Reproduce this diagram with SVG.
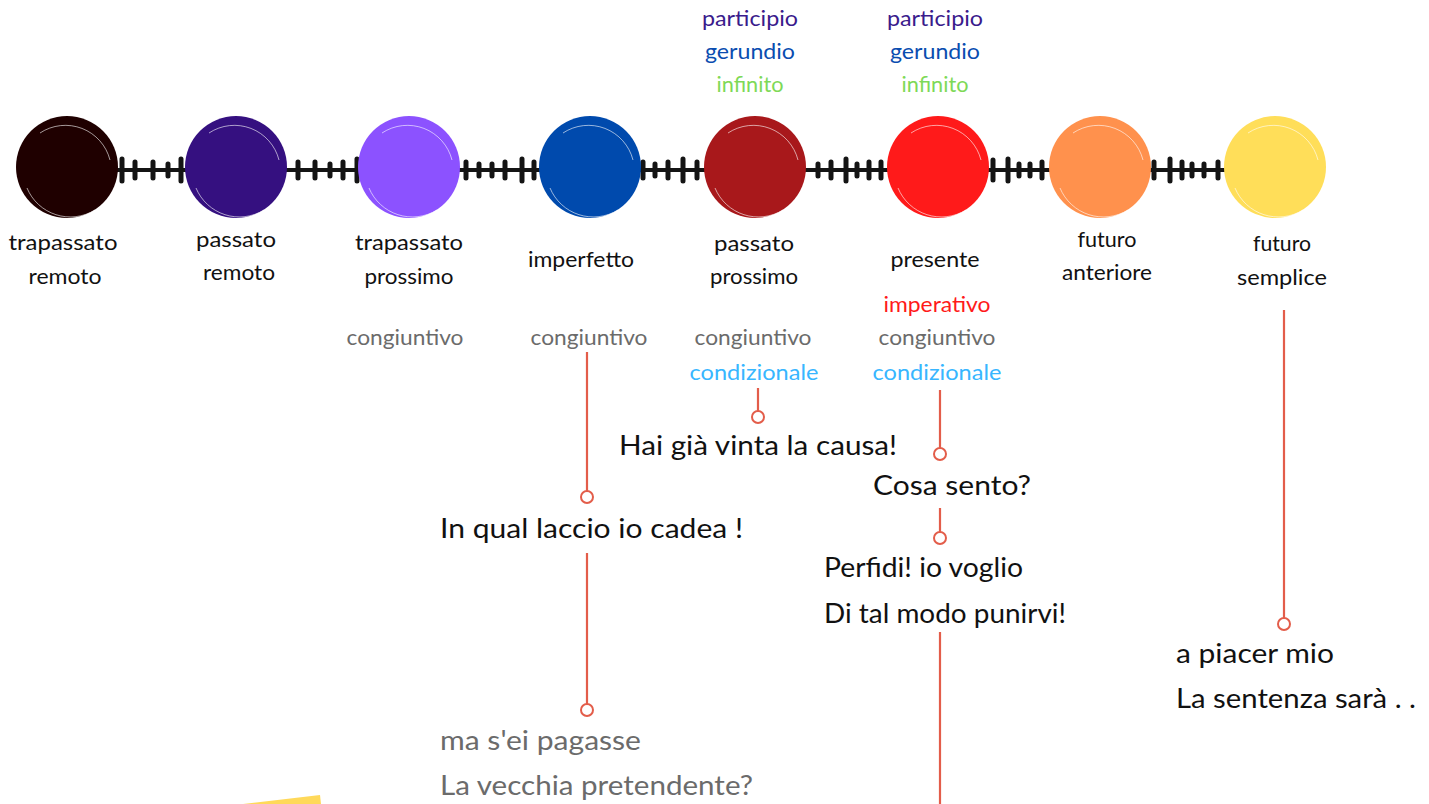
<svg xmlns="http://www.w3.org/2000/svg" width="1429" height="804" viewBox="0 0 1429 804">
<style>
text{font-family:Lato,"Noto Sans","Liberation Sans",sans-serif}
.lbl{font-size:22px;fill:#111;text-anchor:middle}
.sm{font-size:22px;text-anchor:middle}
.q{font-size:27px;fill:#111}
.qg{font-size:27px;fill:#6b6b6b}
.gray{fill:#6b6b6b}.cond{fill:#38b6ff}.imp{fill:#ff1a1a}
.part{fill:#3a1b8c}.ger{fill:#0a4db0}.inf{fill:#7ed957}
.bar{stroke:#141414;stroke-width:4}
.tk{stroke:#141414;stroke-width:5;stroke-linecap:round}
.sk{fill:none;stroke:#fff;stroke-width:1;opacity:.6}
.cn{stroke:#e35d4a;stroke-width:2.2;fill:none}
.dot{stroke:#e35d4a;stroke-width:2;fill:#fff}
</style>
<rect width="1429" height="804" fill="#fff"/>
<g id="timeline-bar">
<line class="bar" x1="110" y1="170" x2="1230" y2="170"/>
<path class="tk" d="M122 159V181M135 162V178M153 162V178M168 164V176M181 159V181
M298 162V178M315 162V178M330 164V176M343 162V178M357 159V181
M466 162V178M479 164V176M492 164V176M505 162V178M522 159V181M534 162V178
M643 162V178M655 164V176M668 162V178M683 159V181M697 162V178
M818 164V176M831 162V178M846 159V181M857 164V176M869 162V178M881 162V178
M993 160V180M1008 159V181M1019 164V176M1030 164V176M1042 162V178
M1154 162V178M1170 159V181M1182 162V178M1192 164V176M1204 164V176M1218 162V178"/>
</g>
<g id="n-trapassato-remoto">
<circle cx="67" cy="167" r="51" fill="#1f0000"/>
<path class="sk" d="M40 133A46 46 0 0 1 110 160M27 188A47 47 0 0 0 95 210"/>
<text class="lbl" x="63" y="250" textLength="109" lengthAdjust="spacingAndGlyphs">trapassato</text><text class="lbl" x="65" y="284" textLength="73" lengthAdjust="spacingAndGlyphs">remoto</text>
</g>
<g id="n-passato-remoto">
<circle cx="236" cy="167" r="51" fill="#351080"/>
<path class="sk" d="M209 133A46 46 0 0 1 279 160M196 188A47 47 0 0 0 264 210"/>
<text class="lbl" x="236" y="247" textLength="80" lengthAdjust="spacingAndGlyphs">passato</text><text class="lbl" x="239" y="280" textLength="72" lengthAdjust="spacingAndGlyphs">remoto</text>
</g>
<g id="n-trapassato-prossimo">
<circle cx="409" cy="167" r="51" fill="#8c52ff"/>
<path class="sk" d="M382 133A46 46 0 0 1 452 160M369 188A47 47 0 0 0 437 210"/>
<text class="lbl" x="409" y="250" textLength="108" lengthAdjust="spacingAndGlyphs">trapassato</text><text class="lbl" x="409" y="284" textLength="89" lengthAdjust="spacingAndGlyphs">prossimo</text>
<text class="sm gray" x="405" y="345" textLength="117" lengthAdjust="spacingAndGlyphs">congiuntivo</text>
</g>
<g id="n-imperfetto">
<circle cx="590" cy="167" r="51" fill="#004aad"/>
<path class="sk" d="M563 133A46 46 0 0 1 633 160M550 188A47 47 0 0 0 618 210"/>
<text class="lbl" x="581" y="267" textLength="106" lengthAdjust="spacingAndGlyphs">imperfetto</text>
<text class="sm gray" x="589" y="345" textLength="117" lengthAdjust="spacingAndGlyphs">congiuntivo</text>
</g>
<g id="n-passato-prossimo">
<circle cx="755" cy="167" r="51" fill="#a8181b"/>
<path class="sk" d="M728 133A46 46 0 0 1 798 160M715 188A47 47 0 0 0 783 210"/>
<text class="sm part" x="750" y="26" textLength="96" lengthAdjust="spacingAndGlyphs">participio</text>
<text class="sm ger" x="750" y="59" textLength="90" lengthAdjust="spacingAndGlyphs">gerundio</text>
<text class="sm inf" x="750" y="92" textLength="67" lengthAdjust="spacingAndGlyphs">infinito</text>
<text class="lbl" x="754" y="251" textLength="80" lengthAdjust="spacingAndGlyphs">passato</text><text class="lbl" x="754" y="284" textLength="88" lengthAdjust="spacingAndGlyphs">prossimo</text>
<text class="sm gray" x="753" y="345" textLength="117" lengthAdjust="spacingAndGlyphs">congiuntivo</text>
<text class="sm cond" x="754" y="380" textLength="129" lengthAdjust="spacingAndGlyphs">condizionale</text>
</g>
<g id="n-presente">
<circle cx="938" cy="167" r="51" fill="#ff1a1a"/>
<path class="sk" d="M911 133A46 46 0 0 1 981 160M898 188A47 47 0 0 0 966 210"/>
<text class="sm part" x="935" y="26" textLength="96" lengthAdjust="spacingAndGlyphs">participio</text>
<text class="sm ger" x="935" y="59" textLength="90" lengthAdjust="spacingAndGlyphs">gerundio</text>
<text class="sm inf" x="935" y="92" textLength="67" lengthAdjust="spacingAndGlyphs">infinito</text>
<text class="lbl" x="935" y="267" textLength="89" lengthAdjust="spacingAndGlyphs">presente</text>
<text class="sm imp" x="937" y="312" textLength="107" lengthAdjust="spacingAndGlyphs">imperativo</text>
<text class="sm gray" x="937" y="345" textLength="117" lengthAdjust="spacingAndGlyphs">congiuntivo</text>
<text class="sm cond" x="937" y="380" textLength="129" lengthAdjust="spacingAndGlyphs">condizionale</text>
</g>
<g id="n-futuro-anteriore">
<circle cx="1100" cy="167" r="51" fill="#ff914d"/>
<path class="sk" d="M1073 133A46 46 0 0 1 1143 160M1060 188A47 47 0 0 0 1128 210"/>
<text class="lbl" x="1107" y="247" textLength="59" lengthAdjust="spacingAndGlyphs">futuro</text><text class="lbl" x="1107" y="280" textLength="90" lengthAdjust="spacingAndGlyphs">anteriore</text>
</g>
<g id="n-futuro-semplice">
<circle cx="1275" cy="167" r="51" fill="#ffde59"/>
<path class="sk" d="M1248 133A46 46 0 0 1 1318 160M1235 188A47 47 0 0 0 1303 210"/>
<text class="lbl" x="1282" y="251" textLength="58" lengthAdjust="spacingAndGlyphs">futuro</text><text class="lbl" x="1282" y="285" textLength="90" lengthAdjust="spacingAndGlyphs">semplice</text>
</g>
<g id="connectors">
<path class="cn" d="M587 352V491M587 553V704M758 388V411M940 390V448M940 508V532M940 632V804M1284 310V618"/>
<circle class="dot" cx="587" cy="497" r="6"/>
<circle class="dot" cx="587" cy="710" r="6"/>
<circle class="dot" cx="758" cy="417" r="6"/>
<circle class="dot" cx="940" cy="454" r="6"/>
<circle class="dot" cx="940" cy="538" r="6"/>
<circle class="dot" cx="1284" cy="624" r="6"/>
</g>
<g id="quotes">
<text class="q" x="619" y="455" textLength="278" lengthAdjust="spacingAndGlyphs">Hai già vinta la causa!</text>
<text class="q" x="873" y="495" textLength="158" lengthAdjust="spacingAndGlyphs">Cosa sento?</text>
<text class="q" x="440" y="538" textLength="303" lengthAdjust="spacingAndGlyphs">In qual laccio io cadea !</text>
<text class="q" x="824" y="577" textLength="199" lengthAdjust="spacingAndGlyphs">Perfidi! io voglio</text>
<text class="q" x="824" y="623" textLength="242" lengthAdjust="spacingAndGlyphs">Di tal modo punirvi!</text>
<text class="qg" x="440" y="750" textLength="201" lengthAdjust="spacingAndGlyphs">ma s'ei pagasse</text>
<text class="qg" x="440" y="795" textLength="313" lengthAdjust="spacingAndGlyphs">La vecchia pretendente?</text>
<text class="q" x="1176" y="663" textLength="158" lengthAdjust="spacingAndGlyphs">a piacer mio</text>
<text class="q" x="1176" y="708" textLength="240" lengthAdjust="spacingAndGlyphs">La sentenza sarà . .</text>
</g>
<polygon points="243,804 320,795 321,804" fill="#ffd95a"/>
</svg>
